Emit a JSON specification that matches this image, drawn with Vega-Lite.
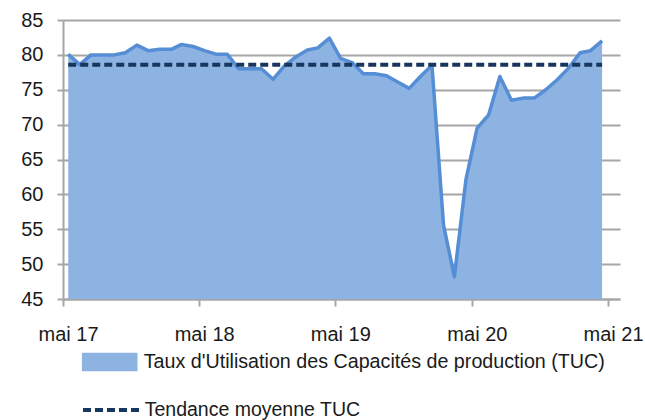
{
  "$schema": "https://vega.github.io/schema/vega-lite/v6.json",
  "width": 557,
  "height": 279,
  "autosize": {"type": "none"},
  "padding": {"left": 63, "top": 20, "right": 25, "bottom": 121},
  "config": {
    "view": {"stroke": null},
    "font": "Liberation Sans",
    "axisY": {
      "values": [45, 50, 55, 60, 65, 70, 75, 80, 85],
      "grid": true,
      "gridColor": "#A6A6A6",
      "gridWidth": 2,
      "domainColor": "#A6A6A6",
      "domainWidth": 2,
      "tickColor": "#A6A6A6",
      "tickWidth": 2,
      "tickSize": 6,
      "labelFontSize": 20,
      "labelPadding": 14,
      "labelColor": "#1a1a1a",
      "labelOverlap": false,
      "labelBound": false,
      "labelFlush": false
    }
  },
  "data": {"values": [
    {"date": "2017-05-15", "tuc": 80.1, "tendance": 78.6},
    {"date": "2017-06-15", "tuc": 78.6, "tendance": 78.6},
    {"date": "2017-07-15", "tuc": 80.0, "tendance": 78.6},
    {"date": "2017-08-15", "tuc": 80.0, "tendance": 78.6},
    {"date": "2017-09-15", "tuc": 80.0, "tendance": 78.6},
    {"date": "2017-10-15", "tuc": 80.3, "tendance": 78.6},
    {"date": "2017-11-15", "tuc": 81.4, "tendance": 78.6},
    {"date": "2017-12-15", "tuc": 80.6, "tendance": 78.6},
    {"date": "2018-01-15", "tuc": 80.8, "tendance": 78.6},
    {"date": "2018-02-15", "tuc": 80.8, "tendance": 78.6},
    {"date": "2018-03-15", "tuc": 81.5, "tendance": 78.6},
    {"date": "2018-04-15", "tuc": 81.2, "tendance": 78.6},
    {"date": "2018-05-15", "tuc": 80.6, "tendance": 78.6},
    {"date": "2018-06-15", "tuc": 80.1, "tendance": 78.6},
    {"date": "2018-07-15", "tuc": 80.1, "tendance": 78.6},
    {"date": "2018-08-15", "tuc": 78.0, "tendance": 78.6},
    {"date": "2018-09-15", "tuc": 78.0, "tendance": 78.6},
    {"date": "2018-10-15", "tuc": 78.0, "tendance": 78.6},
    {"date": "2018-11-15", "tuc": 76.5, "tendance": 78.6},
    {"date": "2018-12-15", "tuc": 78.4, "tendance": 78.6},
    {"date": "2019-01-15", "tuc": 79.7, "tendance": 78.6},
    {"date": "2019-02-15", "tuc": 80.7, "tendance": 78.6},
    {"date": "2019-03-15", "tuc": 81.0, "tendance": 78.6},
    {"date": "2019-04-15", "tuc": 82.4, "tendance": 78.6},
    {"date": "2019-05-15", "tuc": 79.5, "tendance": 78.6},
    {"date": "2019-06-15", "tuc": 78.9, "tendance": 78.6},
    {"date": "2019-07-15", "tuc": 77.3, "tendance": 78.6},
    {"date": "2019-08-15", "tuc": 77.3, "tendance": 78.6},
    {"date": "2019-09-15", "tuc": 77.0, "tendance": 78.6},
    {"date": "2019-10-15", "tuc": 76.1, "tendance": 78.6},
    {"date": "2019-11-15", "tuc": 75.2, "tendance": 78.6},
    {"date": "2019-12-15", "tuc": 76.9, "tendance": 78.6},
    {"date": "2020-01-15", "tuc": 78.5, "tendance": 78.6},
    {"date": "2020-02-15", "tuc": 55.6, "tendance": 78.6},
    {"date": "2020-03-15", "tuc": 48.2, "tendance": 78.6},
    {"date": "2020-04-15", "tuc": 62.1, "tendance": 78.6},
    {"date": "2020-05-15", "tuc": 69.5, "tendance": 78.6},
    {"date": "2020-06-15", "tuc": 71.4, "tendance": 78.6},
    {"date": "2020-07-15", "tuc": 76.9, "tendance": 78.6},
    {"date": "2020-08-15", "tuc": 73.5, "tendance": 78.6},
    {"date": "2020-09-15", "tuc": 73.8, "tendance": 78.6},
    {"date": "2020-10-15", "tuc": 73.8, "tendance": 78.6},
    {"date": "2020-11-15", "tuc": 75.0, "tendance": 78.6},
    {"date": "2020-12-15", "tuc": 76.4, "tendance": 78.6},
    {"date": "2021-01-15", "tuc": 78.1, "tendance": 78.6},
    {"date": "2021-02-15", "tuc": 80.3, "tendance": 78.6},
    {"date": "2021-03-15", "tuc": 80.6, "tendance": 78.6},
    {"date": "2021-04-15", "tuc": 82.0, "tendance": 78.6}
  ]},
  "encoding": {
    "x": {
      "field": "date",
      "type": "temporal",
      "title": null,
      "scale": {"domain": [{"year": 2017, "month": 5, "date": 1}, {"year": 2021, "month": 6, "date": 2}]},
      "axis": {
        "values": [
          {"year": 2017, "month": 5, "date": 1},
          {"year": 2018, "month": 5, "date": 1},
          {"year": 2019, "month": 5, "date": 1},
          {"year": 2020, "month": 5, "date": 1},
          {"year": 2021, "month": 5, "date": 1}
        ],
        "labelExpr": "'mai ' + timeFormat(datum.value, '%y')",
        "grid": false,
        "tickSize": 7,
        "tickColor": "#A6A6A6",
        "tickWidth": 2,
        "domainColor": "#A6A6A6",
        "domainWidth": 2,
        "labelFontSize": 20,
        "labelPadding": 18,
        "labelOffset": 5,
        "labelColor": "#1a1a1a",
        "labelFlush": false,
        "labelOverlap": false,
        "labelBound": false
      }
    }
  },
  "layer": [
    {
      "mark": {"type": "area"},
      "encoding": {
        "y": {
          "field": "tuc",
          "type": "quantitative",
          "title": null,
          "scale": {"domain": [45, 85], "zero": false, "nice": false}
        },
        "y2": {"datum": 45},
        "fill": {
          "datum": "Taux d'Utilisation des Capacités de production (TUC)",
          "scale": {"range": ["#8DB3E2"]},
          "legend": {
            "orient": "none",
            "legendX": 18.7,
            "legendY": 314,
            "title": null,
            "symbolType": "M-1,-0.33H1V0.33H-1Z",
            "symbolSize": 3090,
            "symbolFillColor": "#8DB3E2",
            "symbolStrokeWidth": 0,
            "symbolOpacity": 1,
            "labelFontSize": 19.7,
            "labelOffset": 6,
            "labelLimit": 600,
            "labelColor": "#1a1a1a",
            "padding": 0
          }
        }
      }
    },
    {
      "mark": {"type": "line", "color": "#558ED5", "strokeWidth": 3.5, "strokeJoin": "round"},
      "encoding": {
        "y": {"field": "tuc", "type": "quantitative", "title": null}
      }
    },
    {
      "mark": {"type": "line", "color": "#17375E", "strokeWidth": 4},
      "encoding": {
        "y": {"field": "tendance", "type": "quantitative", "title": null},
        "strokeDash": {
          "datum": "Tendance moyenne TUC",
          "scale": {"range": [[8, 4]]},
          "legend": {
            "orient": "none",
            "legendX": 17.7,
            "legendY": 359,
            "title": null,
            "symbolType": "stroke",
            "symbolSize": 3300,
            "symbolStrokeColor": "#17375E",
            "symbolStrokeWidth": 4,
            "labelFontSize": 19.5,
            "labelOffset": 2,
            "labelLimit": 600,
            "labelColor": "#1a1a1a",
            "padding": 0
          }
        }
      }
    }
  ]
}
